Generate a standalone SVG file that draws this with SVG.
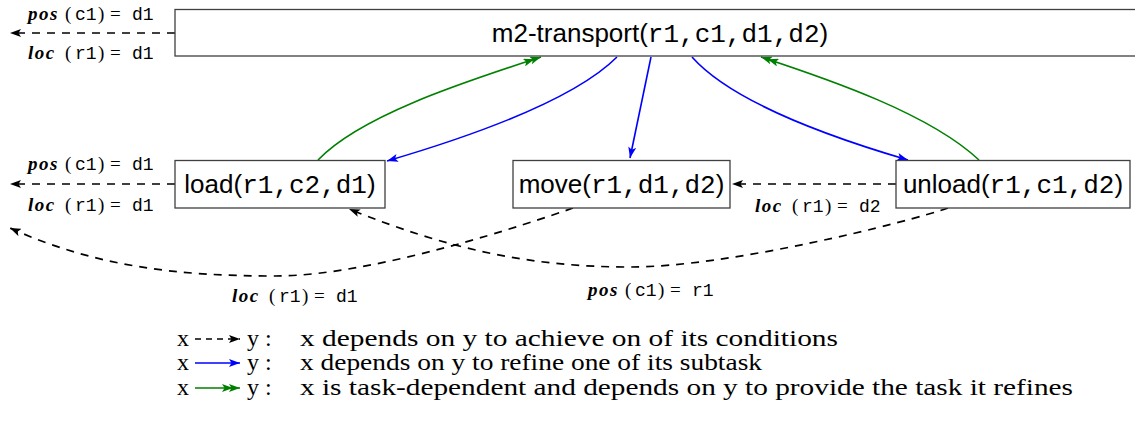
<svg xmlns="http://www.w3.org/2000/svg" width="1135" height="425" viewBox="0 0 1135 425">
<style>
.box{fill:#fff;stroke:#404040;stroke-width:1.3}
.nt{font-size:26px;fill:#000}
.sf{font-family:"Liberation Sans",Arial,sans-serif}
.tt{font-family:"Liberation Mono","Courier New",monospace}
.dep{fill:none;stroke:#000;stroke-width:1.7;stroke-dasharray:8 7}
.refn{fill:none;stroke:#0000ff;stroke-width:1.6}
.task{fill:none;stroke:#008000;stroke-width:1.6}
.lb{font-size:19px;fill:#000}
.mi{font-family:"Liberation Serif","Times New Roman",serif;font-style:italic;font-weight:bold;letter-spacing:1.5px}
.rm{font-family:"Liberation Serif","Times New Roman",serif}
.mt{font-family:"Liberation Mono","Courier New",monospace;font-size:18px}
.leg{font-family:"Liberation Serif","Times New Roman",serif;font-size:24px;fill:#000}
</style>
<defs>
<marker id="ak" viewBox="0 0 11 8" refX="11" refY="4" markerWidth="11" markerHeight="8" markerUnits="userSpaceOnUse" orient="auto"><path d="M0,0 L11,4 L0,8 L2.5,4 z" fill="#000"/></marker>
<marker id="ab" viewBox="0 0 11 8" refX="11" refY="4" markerWidth="11" markerHeight="8" markerUnits="userSpaceOnUse" orient="auto"><path d="M0,0 L11,4 L0,8 L2.5,4 z" fill="#0000ff"/></marker>
<marker id="ag" viewBox="0 0 18 8" refX="18" refY="4" markerWidth="18" markerHeight="8" markerUnits="userSpaceOnUse" orient="auto"><path d="M0,0 L11,4 L0,8 L2.5,4 z M7,0 L18,4 L7,8 L9.5,4 z" fill="#008000"/></marker>
</defs>

<g id="connectors">
<path class="dep" d="M175,33 L10,33" marker-end="url(#ak)"/>
<path class="dep" d="M175,184 L10,184" marker-end="url(#ak)"/>
<path class="dep" d="M896,184 L732,184" marker-end="url(#ak)"/>
<path class="dep" d="M573,208 C533,222 375,276 275,276 C175,276 94,266 10,228" marker-end="url(#ak)"/>
<path class="dep" d="M948,208 C908,222 730,267 630,267 C530,267 448,249 349,209" marker-end="url(#ak)"/>
<path class="refn" d="M617,57 C572,102 462,139 387,161" marker-end="url(#ab)"/>
<path class="refn" d="M651,57 L630,158" marker-end="url(#ab)"/>
<path class="refn" d="M692,57 C732,102 833,138 908,160" marker-end="url(#ab)"/>
<path class="task" d="M318,160 C362,114 471,80 541,57" marker-end="url(#ag)"/>
<path class="task" d="M979,160 C930,114 831,80 761,57" marker-end="url(#ag)"/>
</g>

<g id="node-m2-transport">
<rect class="box" x="175" y="9.5" width="970" height="46.5"/>
<text class="nt" x="660" y="42" text-anchor="middle"><tspan class="sf">m2-transport(</tspan><tspan class="tt">r1,c1,d1,d2</tspan><tspan class="sf">)</tspan></text>
</g>
<g id="node-load">
<rect class="box" x="175" y="160.5" width="210" height="47.5"/>
<text class="nt" x="280" y="193" text-anchor="middle"><tspan class="sf">load(</tspan><tspan class="tt">r1,c2,d1</tspan><tspan class="sf">)</tspan></text>
</g>
<g id="node-move">
<rect class="box" x="513" y="160.5" width="217" height="47.5"/>
<text class="nt" x="621.5" y="193" text-anchor="middle"><tspan class="sf">move(</tspan><tspan class="tt">r1,d1,d2</tspan><tspan class="sf">)</tspan></text>
</g>
<g id="node-unload">
<rect class="box" x="896" y="160.5" width="234" height="47.5"/>
<text class="nt" x="1013" y="193" text-anchor="middle"><tspan class="sf">unload(</tspan><tspan class="tt">r1,c1,d2</tspan><tspan class="sf">)</tspan></text>
</g>

<g id="labels">
<text class="lb" y="20"><tspan class="mi" x="28">pos</tspan><tspan class="rm" x="65">(</tspan><tspan class="mt" x="75">c1</tspan><tspan class="rm" x="98">)</tspan><tspan class="rm" x="110">=</tspan><tspan class="mt" x="132">d1</tspan></text>
<text class="lb" y="59"><tspan class="mi" x="28">loc</tspan><tspan class="rm" x="65">(</tspan><tspan class="mt" x="75">r1</tspan><tspan class="rm" x="98">)</tspan><tspan class="rm" x="110">=</tspan><tspan class="mt" x="132">d1</tspan></text>
<text class="lb" y="170"><tspan class="mi" x="28">pos</tspan><tspan class="rm" x="65">(</tspan><tspan class="mt" x="75">c1</tspan><tspan class="rm" x="98">)</tspan><tspan class="rm" x="110">=</tspan><tspan class="mt" x="132">d1</tspan></text>
<text class="lb" y="211"><tspan class="mi" x="28">loc</tspan><tspan class="rm" x="65">(</tspan><tspan class="mt" x="75">r1</tspan><tspan class="rm" x="98">)</tspan><tspan class="rm" x="110">=</tspan><tspan class="mt" x="132">d1</tspan></text>
<text class="lb" y="212"><tspan class="mi" x="755">loc</tspan><tspan class="rm" x="792">(</tspan><tspan class="mt" x="802">r1</tspan><tspan class="rm" x="825">)</tspan><tspan class="rm" x="837">=</tspan><tspan class="mt" x="859">d2</tspan></text>
<text class="lb" y="302"><tspan class="mi" x="232">loc</tspan><tspan class="rm" x="269">(</tspan><tspan class="mt" x="279">r1</tspan><tspan class="rm" x="302">)</tspan><tspan class="rm" x="314">=</tspan><tspan class="mt" x="336">d1</tspan></text>
<text class="lb" y="296"><tspan class="mi" x="588">pos</tspan><tspan class="rm" x="625">(</tspan><tspan class="mt" x="635">c1</tspan><tspan class="rm" x="658">)</tspan><tspan class="rm" x="670">=</tspan><tspan class="mt" x="692">r1</tspan></text>
</g>

<g id="legend">
<text class="leg" x="177" y="346">x</text>
<path class="dep" d="M195,339 L240,339" style="stroke-width:1.5;stroke-dasharray:6 5" marker-end="url(#ak)"/>
<text class="leg" x="247" y="346">y :</text>
<text class="leg" x="300" y="346" textLength="538" lengthAdjust="spacingAndGlyphs">x depends on y to achieve on of its conditions</text>

<text class="leg" x="177" y="370">x</text>
<path class="refn" d="M195,363 L240,363" marker-end="url(#ab)"/>
<text class="leg" x="247" y="370">y :</text>
<text class="leg" x="300" y="370" textLength="462" lengthAdjust="spacingAndGlyphs">x depends on y to refine one of its subtask</text>

<text class="leg" x="177" y="395">x</text>
<path class="task" d="M195,388 L240,388" marker-end="url(#ag)"/>
<text class="leg" x="247" y="395">y :</text>
<text class="leg" x="300" y="395" textLength="773" lengthAdjust="spacingAndGlyphs">x is task-dependent and depends on y to provide the task it refines</text>
</g>
</svg>
